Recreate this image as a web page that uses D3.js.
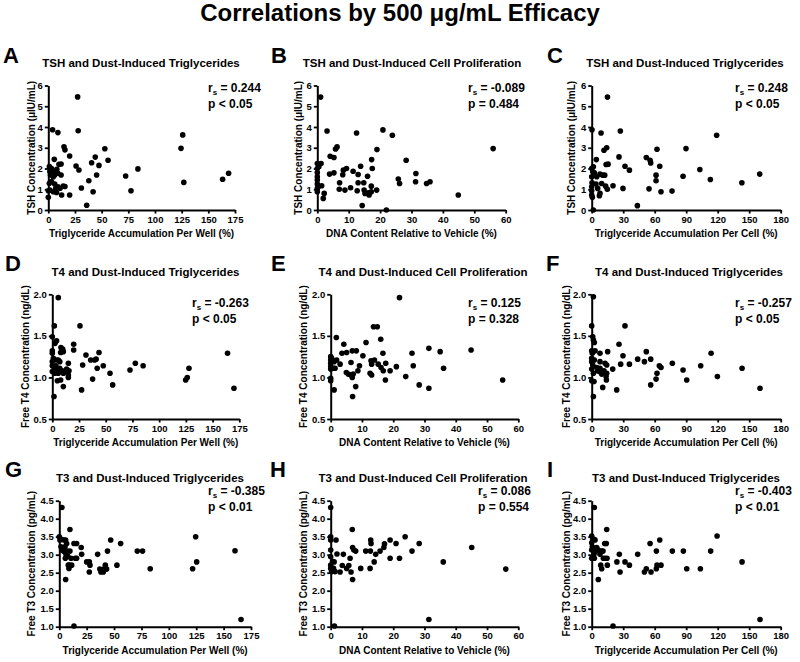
<!DOCTYPE html>
<html><head><meta charset="utf-8">
<script src="https://cdn.jsdelivr.net/npm/d3@7"></script>
<style>
body{margin:0;background:#fff}
svg text{font-family:"Liberation Sans",Arial,Helvetica,sans-serif;font-weight:bold;fill:#000}
</style>
</head><body>
<svg id="chart" width="800" height="662"></svg>
<script>
// ---------- text ----------
const mainTitle = "Correlations by 500 \u03BCg/mL Efficacy";
const panelLetters = ["A","B","C","D","E","F","G","H","I"];
const panelTitles = [
  "TSH and Dust-Induced Triglycerides","TSH and Dust-Induced Cell Proliferation","TSH and Dust-Induced Triglycerides",
  "T4 and Dust-Induced Triglycerides","T4 and Dust-Induced Cell Proliferation","T4 and Dust-Induced Triglycerides",
  "T3 and Dust-Induced Triglycerides","T3 and Dust-Induced Cell Proliferation","T3 and Dust-Induced Triglycerides"];
const xLabels = ["Triglyceride Accumulation Per Well (%)","DNA Content Relative to Vehicle (%)","Triglyceride Accumulation Per Cell (%)"];
const yLabels = ["TSH Concentration (\u03BCIU/mL)","Free T4 Concentration (ng/dL)","Free T3 Concentration (pg/mL)"];
const rsValues = ["0.244","-0.089","0.248","-0.263","0.125","-0.257","-0.385","0.086","-0.403"];
const pValues = ["p < 0.05","p = 0.484","p < 0.05","p < 0.05","p = 0.328","p < 0.05","p < 0.01","p = 0.554","p < 0.01"];

// ---------- ticks ----------
const xTicksWell = [0,25,50,75,100,125,150,175];
const xTicksDNA  = [0,10,20,30,40,50,60];
const xTicksCell = [0,30,60,90,120,150,180];
const yTicksTSH = [0,1,2,3,4,5,6];
const yTicksT4  = [0.5,1.0,1.5,2.0];
const yTicksT3  = [1.0,1.5,2.0,2.5,3.0,3.5,4.0,4.5];

// ---------- data ----------
// A: TSH vs triglyceride per well
const aX = [27.5,28,4,9,14.7,15.6,20,53,56,44,40.6,26,28.7,47.5,45.3,84,72.5,77.5,38,31,42,36,20,124.4,126,127,163.4,169,
  1,3,1.5,4.7,2,6,9,12,4.7,8,5.6,10,12,1,3,6,9,14,15.6,1.5,4.7,7.8,12.5,0,0,7,11];
const aY = [5.45,3.82,3.87,3.73,3.05,2.9,2.6,2.95,2.4,2.55,2.28,2.12,1.93,2.15,1.69,1.98,1.64,0.93,1.41,1.06,0.88,0.23,0.72,2.97,3.62,1.33,1.48,1.77,
  2.09,2.0,1.85,1.85,1.69,1.69,1.77,1.69,1.6,1.96,2.44,2.2,2.22,1.29,1.37,1.25,1.12,1.16,1.13,0.96,0.88,0.84,0.72,0.61,0.93,1.05,1.05];
// B: TSH vs DNA content
const bX = [1.06,3.1,12.5,20.9,23.9,56,6.3,5.8,4.1,5.3,19,28.3,17.3,13.8,17.5,9.3,8.3,8.1,11.4,13,16,3.9,5.3,31.4,25.8,26.2,31.3,34.8,35.9,
  7.1,13,14.8,17.2,14.9,16.2,15.2,17.2,16.5,18.9,7,8.8,10.6,12.7,14.3,22,44.9,1.4,1.9,2.2,1.2,0,0,0,0,0,0,0,0,0.3,0.5];
const bY = [5.44,3.81,3.71,3.86,3.6,2.96,3.04,2.94,2.59,2.53,2.91,2.4,2.43,2.11,2.0,2.0,1.92,1.7,1.87,1.71,1.63,1.73,1.79,1.76,1.49,1.28,1.36,1.28,1.36,
  1.31,1.31,1.31,1.15,0.96,0.83,0.8,0.88,0.72,0.96,1.0,0.96,1.07,0.93,0.22,0.0,0.72,1.17,0.56,0.8,2.24,2.24,2.0,1.8,1.6,1.44,1.25,1.04,0.88,1.12,2.08];
// C: TSH vs triglyceride per cell
const cX = [15,0.3,8.9,27.3,119,14.3,11.7,89.8,62.2,26,52,55.6,56.2,4.4,13.7,15.6,31.7,35.9,64.8,103,87,61.3,113,61.3,143,160,54.6,66,76.5,29.8,20.3,13.3,14.9,43.5,
  7.9,7.3,5.7,9.5,7.9,10.5,12.4,4.8,2.5,1.6,4.1,0,1,0,0.3,0,0,0,0.6,1.6];
const cY = [5.44,3.87,3.71,3.81,3.6,3.0,2.88,2.96,2.93,2.56,2.53,2.4,2.27,2.43,2.19,2.21,2.11,1.92,2.11,1.95,1.63,1.68,1.47,1.41,1.31,1.73,1.02,0.88,0.91,1.04,1.17,1.15,1.0,0.21,
  0.8,0.69,1.04,1.28,1.73,1.68,1.68,1.6,1.79,2.08,1.25,2.0,1.84,1.6,1.31,1.12,0.93,0.72,0.61,0.0];
// D: free T4 vs triglyceride per well
const dX = [5.6,25.9,1.9,0,4,2.5,20,20,31.5,43.7,35.9,39.6,41,47.7,42,28.4,54,56.5,37.7,27.4,72.7,77.7,85,124.8,126.3,127.9,164,170,1.6,
  0,0,0,1,0,0,2,4,5.6,7,3.4,4.7,2.5,5.6,7,8.7,8.1,9.7,10.3,7.8,4.7,7.8,10.3,10.3,11.9,13.4,15,15,15,15.6];
const dY = [1.96,1.62,1.62,1.49,1.44,1.41,1.40,1.33,1.27,1.30,1.21,1.21,1.22,1.14,1.11,1.15,1.05,0.91,0.98,0.85,1.09,1.17,1.14,0.97,1.0,1.11,1.29,0.87,0.77,
  1.32,1.29,1.19,1.23,1.14,1.07,1.1,1.21,1.21,1.19,1.14,1.09,1.05,1.05,1.11,1.08,1.36,1.34,1.31,1.3,0.96,0.97,1.05,0.89,1.08,1.1,1.03,1.0,1.17,1.08];
// E: free T4 vs DNA content
const eX = [22,13.7,14.9,1.8,4.2,16,11.3,3.6,5.1,6.9,8.2,10.3,16.7,26,31.4,35,44.9,36.1,26.4,21,19,24,28.3,31.4,55,17.5,15.2,16.1,16.8,17.6,12.9,13.1,14,12.6,13.1,
  9.2,8.7,6.5,6.5,6.9,7.2,5,5.6,8,7,1.1,3,1.9,1.1,0.9,1.4,0,0,0,0,0,0,0,0.3];
const eY = [1.96,1.61,1.61,1.48,1.40,1.46,1.42,1.29,1.30,1.32,1.32,1.26,1.29,1.29,1.35,1.31,1.33,1.11,1.14,1.13,1.08,1.01,0.91,0.87,0.97,0.97,1.16,1.12,1.08,1.17,1.2,1.16,1.21,1.05,1.03,
  1.14,1.08,1.18,1.03,1.0,1.04,1.06,1.04,0.89,0.77,0.85,1.16,1.21,1.19,1.11,1.11,1.25,1.21,1.17,1.13,1.1,0.99,0.96,1.23];
// F: free T4 vs triglyceride per cell
const fX = [1.6,31.7,0,26,29.8,27.6,35.9,43.8,50.2,52,56.2,56.2,64.4,66,62.2,61.3,76.8,87,90.5,103.8,113.7,119.7,143.2,160.3,23.8,20,14.3,15.2,7.9,7.9,10.5,14,13.7,12.7,11.7,9.5,7.3,4.8,5.7,7.9,14.3,
  1.6,2.2,0,1,1.6,2.5,0,0.6,0,0,1,0,2.5,3.2,1.6];
const fY = [1.97,1.62,1.62,1.40,1.26,1.16,1.16,1.22,1.19,1.31,1.22,0.91,1.14,1.12,1.05,0.98,1.17,1.09,0.97,1.14,1.29,1.01,1.11,0.87,0.85,1.1,1.15,1.31,1.29,1.19,0.88,0.97,1.01,1.17,1.08,1.04,1.07,1.12,1.08,1.11,1.05,
  0.77,0.95,0.96,1.49,1.45,1.42,1.32,1.29,1.23,1.19,1.15,1.1,1.21,1.32,1.05];
// G: free T3 vs triglyceride per well
const gX = [2.4,9.7,13.4,15.8,20,20.4,14.6,15.8,9.7,10.7,9.1,11.3,8.8,5.8,13.4,25,27.4,28,27.4,35,37,38,40.2,40.8,42,43.2,44,46.9,52.6,56,71.2,76,83,121.7,124.5,125.4,160.4,165.9,
  0,0.6,2.1,1.5,2.7,4.3,5.8,6.7,5.2,3.7,6,5.5,7.6,7.3,8.2];
const gY = [4.31,3.70,3.31,3.31,3.20,3.01,2.9,2.9,3.1,2.9,2.71,2.71,2.62,2.31,1.02,2.8,2.8,2.71,2.52,3.01,2.6,2.52,2.52,2.6,2.71,2.6,3.1,3.41,2.71,3.31,3.1,3.1,2.61,2.61,3.5,2.8,3.11,1.2,
  3.5,3.41,3.43,3.22,3.13,3.41,3.41,3.31,3.22,3.1,3.02,2.9,2.96,3.1,2.71];
// H: free T3 vs DNA content
const hX = [0,6.9,0,0,1.7,0,0,0,0,0.3,0.6,1.1,0.9,1.4,2,1.2,3,4.05,3.7,5.1,5.8,6.2,6.5,7,7,7.4,8,9.6,11.2,12.7,12.6,12.8,12.9,13.9,14.4,15.8,17,17.2,19,19,20.9,22,23.8,26,28.3,31.4,36,45.1,56];
const hY = [4.31,3.70,3.5,3.41,3.41,3.13,2.94,2.71,2.62,2.53,2.82,2.8,2.62,2.53,3.02,1.02,2.52,3.01,2.7,2.62,2.7,2.9,2.52,2.31,3.2,3.13,3.1,2.62,3.1,3.1,2.62,3.41,3.31,2.8,3.01,3.1,3.2,3.3,3.41,2.9,3.31,2.9,3.5,3.1,3.31,1.2,2.8,3.2,2.6];
// I: free T3 vs triglyceride per cell
const iX = [2.5,14.3,12.4,13.9,55.6,64.8,119.4,113.3,87.3,76.8,61.6,43.8,26.3,31.7,24,35.9,27,50.2,52,56.5,61.6,62.2,66,90.5,103.5,143.2,160.3,20.3,6.3,14.9,12.7,14.6,8.6,9.5,7.9,9.5,10.8,11.1,6.3,4.8,3.8,
  0,1,2.2,0,0.6,1.6,3.2,0,2.5,0,2.2];
const iY = [4.31,3.70,3.31,3.31,3.31,3.41,3.52,3.1,3.1,3.1,3.1,3.01,3.01,2.8,2.8,2.71,2.52,2.52,2.61,2.52,2.61,2.71,2.71,2.61,2.61,2.8,1.2,1.02,2.31,2.71,2.9,2.9,2.71,2.61,3.01,3.1,3.1,2.9,3.13,3.2,3.1,
  3.52,3.43,3.43,3.33,3.22,3.13,3.41,2.9,2.9,3.13,3.02];

const xData = [aX,bX,cX,dX,eX,fX,gX,hX,iX];
const yData = [aY,bY,cY,dY,eY,fY,gY,hY,iY];
const xTickSets = [xTicksWell,xTicksDNA,xTicksCell];
const yTickSets = [yTicksTSH,yTicksT4,yTicksT3];

// ---------- layout (pixel frames of each panel) ----------
const rows = [
  {top:85.5, bot:210, letterY:63, titleY:67, annY:[92,108]},
  {top:294.3, bot:419, letterY:271, titleY:276, annY:[307,323]},
  {top:500.7, bot:626.7, letterY:477, titleY:482, annY:[495,511]}
];
const frames = [
  {x0:48.3, x1:235, letterX:3, titleX:141, annX:208, yLabX:31.5},
  {x0:317.3,x1:505.7,letterX:271,titleX:412, annX:468, yLabX:298},
  {x0:591.7,x1:780.7,letterX:547,titleX:685, annX:735, yLabX:571.5},
  {x0:52.3, x1:239.3,letterX:5, titleX:145.5,annX:192, yLabX:25},
  {x0:330.7,x1:518.3,letterX:271,titleX:423, annX:468, yLabX:303.5},
  {x0:591.7,x1:780.7,letterX:546,titleX:689, annX:735, yLabX:566.5},
  {x0:59.3, x1:251, letterX:5, titleX:150, annX:208, yLabX:31.5},
  {x0:330.7,x1:518.3,letterX:270,titleX:423, annX:478, yLabX:303.5},
  {x0:591.7,x1:780.7,letterX:547,titleX:686, annX:735, yLabX:566.5}
];

const svg = d3.select("#chart");
svg.append("rect").attr("width",800).attr("height",662).attr("fill","#fff");

svg.append("text").attr("x",400).attr("y",21).attr("text-anchor","middle")
  .style("font-size","24px").text(mainTitle);

frames.forEach((f,i)=>{
  const r = rows[Math.floor(i/3)];
  const col = i%3, row = Math.floor(i/3);
  const xt = xTickSets[col], yt = yTickSets[row];
  const x = d3.scaleLinear().domain([xt[0], xt[xt.length-1]]).range([f.x0, f.x1]);
  const y = d3.scaleLinear().domain([yt[0], yt[yt.length-1]]).range([r.bot, r.top]);
  const g = svg.append("g");

  g.append("text").attr("x",f.letterX).attr("y",r.letterY).style("font-size","22px").text(panelLetters[i]);
  g.append("text").attr("x",f.titleX).attr("y",r.titleY).attr("text-anchor","middle")
    .style("font-size","11.5px").text(panelTitles[i]);

  const yFmt = row===0 ? d3.format("d") : d3.format(".1f");
  const ax = g.append("g").attr("transform",`translate(0,${r.bot})`)
    .call(d3.axisBottom(x).tickValues(xt).tickSize(3.5).tickSizeOuter(0).tickPadding(2.5).tickFormat(d3.format("d")));
  const ay = g.append("g").attr("transform",`translate(${f.x0},0)`)
    .call(d3.axisLeft(y).tickValues(yt).tickSize(3.5).tickSizeOuter(0).tickPadding(2).tickFormat(yFmt));
  [ax,ay].forEach(a=>{
    a.select(".domain").attr("stroke","#000").attr("stroke-width",2);
    a.selectAll(".tick line").attr("stroke","#000").attr("stroke-width",1.8);
    a.selectAll(".tick text").style("font-size","9.5px").style("font-family",'"Liberation Sans",Arial,sans-serif').style("font-weight","bold").attr("fill","#000");
  });

  g.append("text").attr("x",(f.x0+f.x1)/2).attr("y",r.bot+27).attr("text-anchor","middle")
    .style("font-size","10px").text(xLabels[col]);
  g.append("text").attr("transform",`translate(${f.yLabX+3.5},${(r.top+r.bot)/2}) rotate(-90)`)
    .attr("text-anchor","middle").style("font-size","10px").text(yLabels[row]);

  const t1 = g.append("text").attr("x",f.annX).attr("y",r.annY[0]).style("font-size","12px");
  t1.append("tspan").text("r");
  t1.append("tspan").attr("dy",3).style("font-size","8px").text("s");
  t1.append("tspan").attr("dy",-3).text(" = " + rsValues[i]);
  g.append("text").attr("x",f.annX).attr("y",r.annY[1]).style("font-size","12px").text(pValues[i]);

  const pts = xData[i].map((v,k)=>[v, yData[i][k]]);
  g.append("g").selectAll("circle").data(pts).join("circle")
    .attr("cx",d=>x(d[0])).attr("cy",d=>y(d[1])).attr("r",2.8).attr("fill","#000");
});
</script>
</body></html>
